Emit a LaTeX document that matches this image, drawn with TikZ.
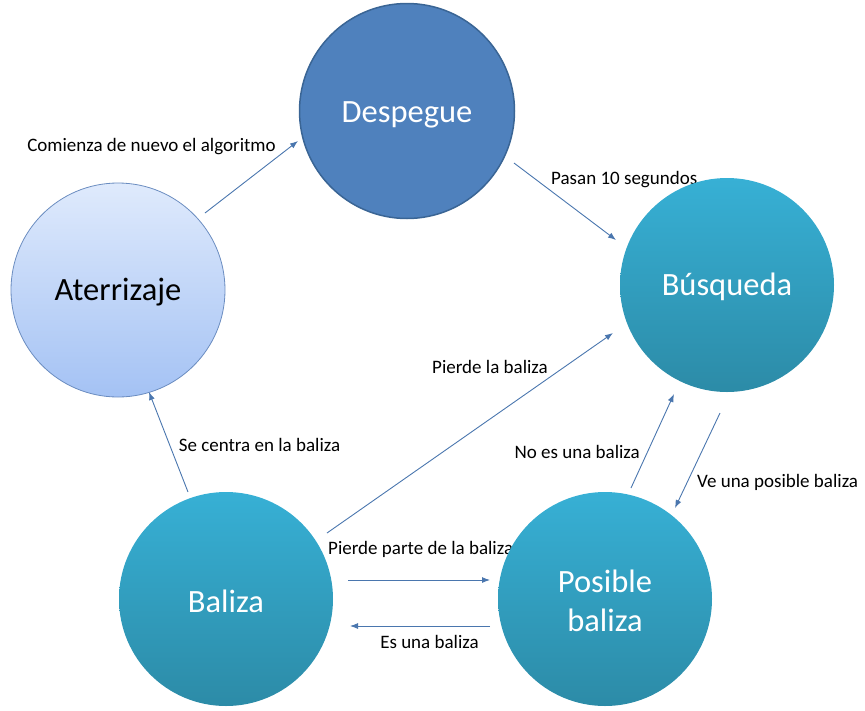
\documentclass[tikz,border=0pt]{standalone}
\usepackage{fontspec}
\setmainfont{Carlito}
\usetikzlibrary{arrows.meta}
\definecolor{despfill}{HTML}{4F81BD}
\definecolor{despline}{HTML}{3A6595}
\definecolor{atertop}{HTML}{DFEAFC}
\definecolor{aterbot}{HTML}{A4C2F4}
\definecolor{aterline}{HTML}{6A8CC0}
\definecolor{tealtop}{HTML}{37B0D5}
\definecolor{tealbot}{HTML}{2C8BA7}
\definecolor{arrcol}{HTML}{4A76AE}
\tikzset{
  x=1pt, y=-1pt,
  statenode/.style={circle, minimum size=214pt, inner sep=0pt, font=\fontsize{32.5}{39}\selectfont, align=center},
  tealnode/.style={statenode, top color=tealtop, bottom color=tealbot, text=white},
  lbl/.style={font=\fontsize{19}{22}\selectfont, inner sep=0pt, text=black},
  arr/.style={draw=arrcol, line width=0.9pt, -{Latex[length=8pt,width=6pt]}},
}
\begin{document}
\begin{tikzpicture}
\useasboundingbox (0,0) rectangle (865,710);
% labels drawn first (one is overlapped by a circle)
\node[lbl] (l1) at (151.5,147) {Comienza de nuevo el algoritmo};
\node[lbl, anchor=west] (l2) at (551,180) {Pasan 10 segundos};
\node[lbl] (l3) at (490,367) {Pierde la baliza};
\node[lbl] (l4) at (259.5,445) {Se centra en la baliza};
\node[lbl, anchor=east] (l5) at (640,452) {No es una baliza};
\node[lbl, anchor=west] (l6) at (697,482) {Ve una posible baliza};
\node[lbl, anchor=west] (l7) at (328,549) {Pierde parte de la baliza};
\node[lbl] (l8) at (429.5,642) {Es una baliza};
% states
\node[statenode, fill=despfill, draw=despline, line width=1.5pt, text=white, minimum size=215pt] (desp) at (407,111) {};
\node[text=white, font=\fontsize{32.5}{39}\selectfont, inner sep=0pt] (despt) at (407,115) {Despegue};
\node[statenode, top color=atertop, bottom color=aterbot, draw=aterline, line width=0.8pt, text=black] (ater) at (118,290) {};
\node[text=black, font=\fontsize{32.5}{39}\selectfont, inner sep=0pt] (atert) at (118,292) {Aterrizaje};
\node[tealnode] (busq) at (727,285) {};
\node[text=white, font=\fontsize{32.5}{39}\selectfont, inner sep=0pt] (busqt) at (727,287) {Búsqueda};
\node[tealnode] (bal) at (226,599) {};
\node[text=white, font=\fontsize{32.5}{39}\selectfont, inner sep=0pt] (balt) at (226,601) {Baliza};
\node[tealnode] (pos) at (605,599) {};
\node[text=white, font=\fontsize{32.5}{39}\selectfont, inner sep=0pt, align=center] (post) at (605,601) {Posible\\baliza};
% connector end points
\coordinate (a1) at (205,213); \coordinate (b1) at (298,141);
\coordinate (a2) at (514,163); \coordinate (b2) at (616,240);
\coordinate (a3) at (327,533); \coordinate (b3) at (613,333);
\coordinate (a4) at (631,488); \coordinate (b4) at (674,394);
\coordinate (a5) at (720,413); \coordinate (b5) at (675,508);
\coordinate (a6) at (188,492); \coordinate (b6) at (149,392);
\coordinate (a7) at (348,580); \coordinate (b7) at (490,580);
\coordinate (a8) at (490,626); \coordinate (b8) at (350,626);
\draw[arr] (a1) -- (b1);
\draw[arr] (a2) -- (b2);
\draw[arr] (a3) -- (b3);
\draw[arr] (a4) -- (b4);
\draw[arr] (a5) -- (b5);
\draw[arr] (a6) -- (b6);
\draw[arr] (a7) -- (b7);
\draw[arr] (a8) -- (b8);
\end{tikzpicture}
\end{document}
